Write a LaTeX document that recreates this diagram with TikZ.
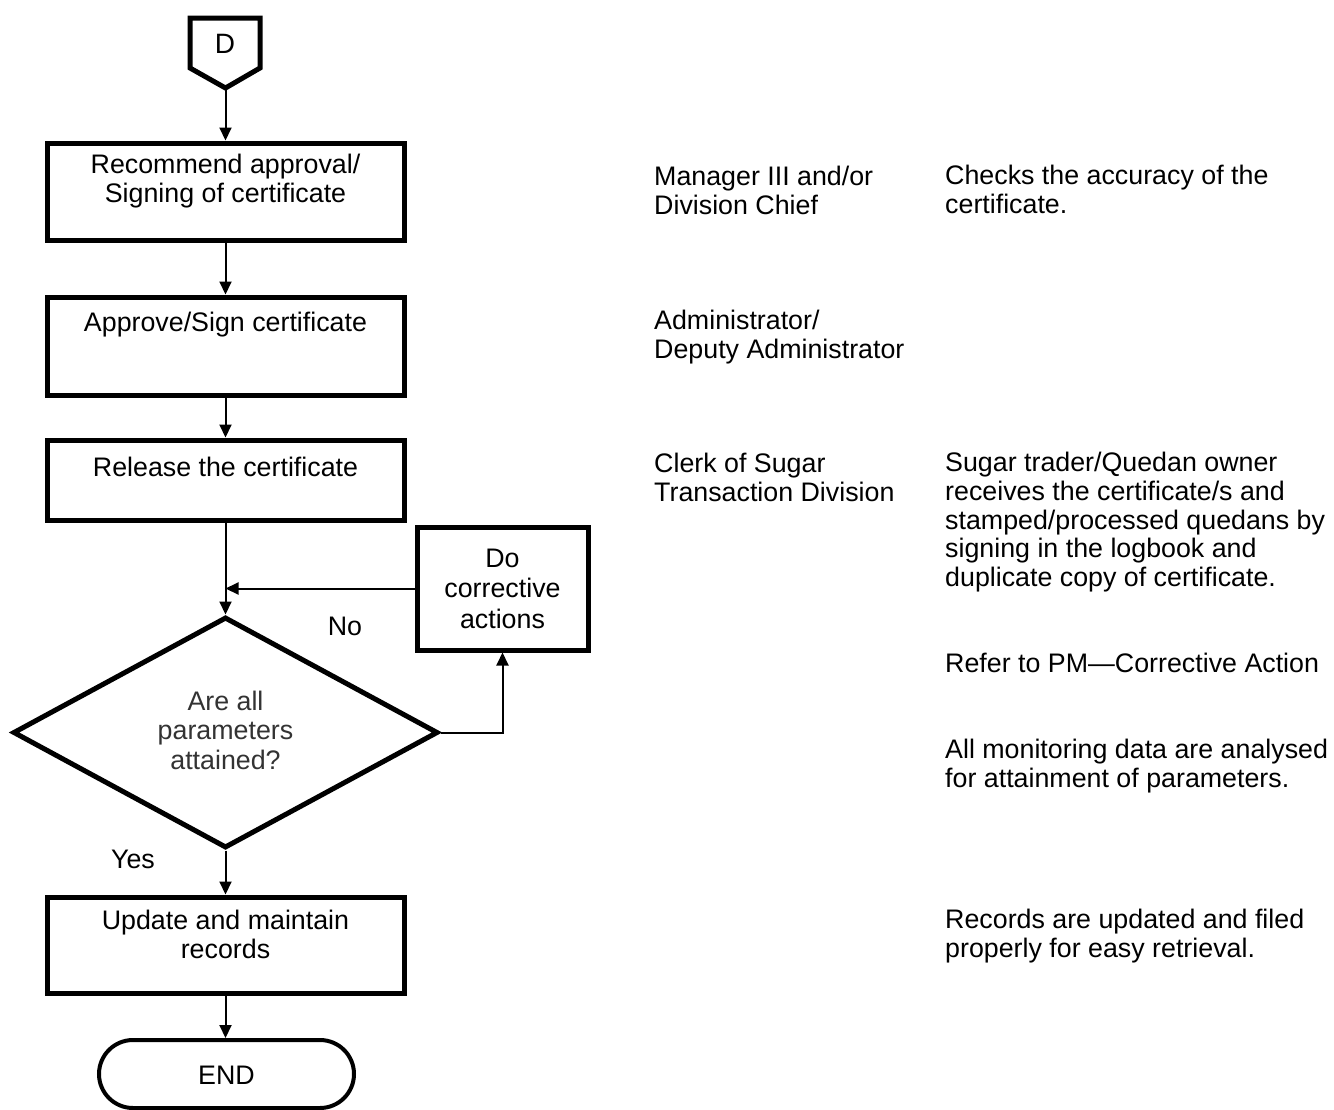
\documentclass[tikz,border=0pt]{standalone}
\usepackage{fontspec}
\setmainfont{Liberation Sans}
\usetikzlibrary{shapes.geometric,shapes.misc,arrows.meta}
\begin{document}
\begin{tikzpicture}[x=1pt,y=-1pt,
  txt/.style={font=\fontsize{26.8}{29.5}\selectfont, inner sep=0pt, align=center},
  note/.style={font=\fontsize{26.8}{28.7}\selectfont, inner sep=0pt, align=left, anchor=north west},
  procbox/.style={draw, line width=5pt, minimum width=357pt, inner sep=0pt},
  fixbox/.style={draw, line width=5pt, minimum width=171pt, minimum height=123pt, inner sep=0pt,
                 align=center, font=\fontsize{26.8}{30.5}\selectfont},
  decision/.style={draw, diamond, line width=5pt, minimum width=425pt, minimum height=231pt, inner sep=0pt},
  terminal/.style={draw, rounded rectangle, line width=4pt, minimum width=255pt, minimum height=68pt, inner sep=0pt},
  flow/.style={line width=2pt, -{Triangle[length=13pt,width=12pt]}},
]
\useasboundingbox (0,0) rectangle (1334,1109);
\fill[white] (0,0) rectangle (1334,1109);

% off-page connector D
\draw[line width=5pt, line join=miter] (190,18) -- (260,18) -- (260,68) -- (225.5,88) -- (190,68) -- cycle;
\coordinate (dtip) at (225.5,88);
\node[txt, font=\fontsize{28}{30}\selectfont] (dlab) at (225,44) {D};

% process steps
\node[procbox, minimum height=97pt] (b1) at (225.5,191.5) {};
\node[txt, anchor=north] (b1t) at ([yshift=-13pt]b1.north) {Recommend approval/\\Signing of certificate};

\node[procbox, minimum height=98pt] (b2) at (225.5,346) {};
\node[txt, anchor=north] (b2t) at ([yshift=-17pt]b2.north) {Approve/Sign certificate};

\node[procbox, minimum height=80pt] (b3) at (225.5,480) {};
\node[txt, anchor=north] (b3t) at ([yshift=-19pt]b3.north) {Release the certificate};

\node[decision] (dec) at (225.5,732.5) {};
\node[txt, text=black!80] (dect) at (225.5,730) {Are all\\parameters\\attained?};

\node[fixbox] (fix) at (502.5,588.5) {Do\\corrective\\actions};

\node[procbox, minimum height=96pt] (upd) at (225.5,945) {};
\node[txt, anchor=north] (updt) at ([yshift=-15pt]upd.north) {Update and maintain\\records};

\node[terminal] (end) at (226.5,1074) {};
\node[txt] (endt) at (226.5,1075) {END};

% connectors
\draw[flow] (dtip) -- (b1.north);
\draw[flow] (b1.south) -- (b2.north);
\draw[flow] (b2.south) -- (b3.north);
\draw[flow] (b3.south) -- (dec.north);
\draw[flow] (fix.west) -- (fix.west -| b3.south);
\draw[flow] (dec.east) -| (fix.south);
\draw[flow] (dec.south) -- (upd.north);
\draw[flow] (upd.south) -- (upd.south |- end.north);

\node[txt] (no) at (345,626) {No};
\node[txt] (yes) at (133,859) {Yes};

% responsibilities
\node[note] (r1) at (654,166) {Manager III and/or\\Division Chief};
\node[note] (r2) at (654,310) {Administrator/\\Deputy Administrator};
\node[note] (r3) at (654,453) {Clerk of Sugar\\Transaction Division};

% remarks
\node[note] (m1) at (945,165) {Checks the accuracy of the\\certificate.};
\node[note] (m3) at (945,452) {Sugar trader/Quedan owner\\receives the certificate/s and\\stamped/processed quedans by\\signing in the logbook and\\duplicate copy of certificate.};
\node[note] (m4) at (945,653) {Refer to PM---Corrective Action};
\node[note] (m5) at (945,739) {All monitoring data are analysed\\for attainment of parameters.};
\node[note] (m6) at (945,909) {Records are updated and filed\\properly for easy retrieval.};
\end{tikzpicture}
\end{document}
